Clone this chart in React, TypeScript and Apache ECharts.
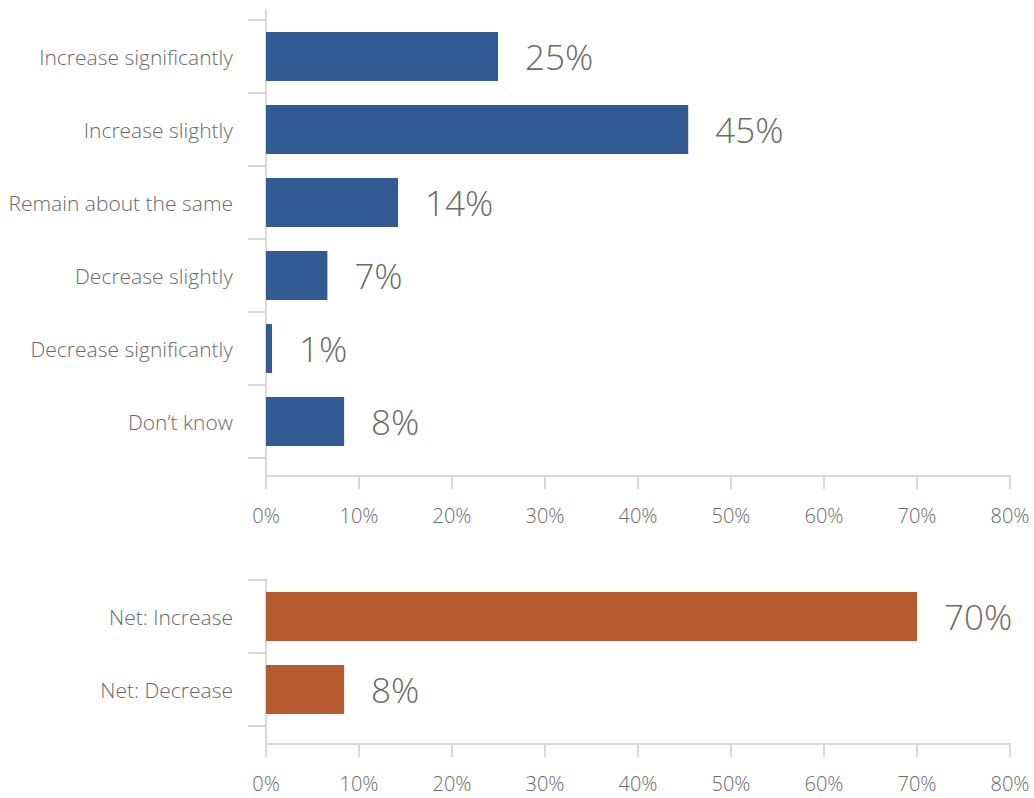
import React, { useEffect, useRef } from "react";
import * as echarts from "echarts";

const topCategories = [
  "Increase significantly",
  "Increase slightly",
  "Remain about the same",
  "Decrease slightly",
  "Decrease significantly",
  "Don’t know",
];
const topValues = [0.2495, 0.454, 0.142, 0.066, 0.0065, 0.084];

const netCategories = ["Net: Increase", "Net: Decrease"];
const netValues = [0.7, 0.084];

const axisMax = 0.8;
const axisInterval = 0.1;

const BLUE = "#335B93";
const ORANGE = "#B85A2F";
const AXIS = "#D9D9D9";
const TEXT = "#6A6A6A";
const FONT = "Open Sans";

export default function App() {
  const ref = useRef<HTMLDivElement>(null);

  useEffect(() => {
    document.body.style.margin = "0";
    const chart = echarts.init(ref.current!, null, { renderer: "svg" });
    const left = 266;
    const right = 24;
    const pct = (v: number) => Math.round(v * 100) + "%";

    const grids = [
      { left, right, top: 10, height: 466 },
      { left, right, top: 20, height: 438 },
      { left, right, top: 579, height: 165 },
      { left, right, top: 580, height: 146 },
    ];

    const frameX = (gi: number) => ({
      type: "value",
      gridIndex: gi,
      min: 0,
      max: axisMax,
      interval: axisInterval,
      axisLine: { show: true, lineStyle: { color: AXIS, width: 2 } },
      axisTick: { show: true, length: 13, lineStyle: { color: AXIS, width: 2 } },
      splitLine: { show: false },
      axisLabel: {
        formatter: (v: number) => pct(v),
        color: TEXT,
        fontFamily: FONT,
        fontWeight: 300,
        fontSize: 20,
        margin: 29,
      },
    });
    const hiddenX = (gi: number) => ({
      type: "value",
      gridIndex: gi,
      min: 0,
      max: axisMax,
      show: false,
    });
    const frameY = (gi: number) => ({
      type: "value",
      gridIndex: gi,
      axisLine: { show: true, lineStyle: { color: AXIS, width: 2 } },
      axisTick: { show: false },
      axisLabel: { show: false },
      splitLine: { show: false },
    });
    const catY = (gi: number, data: string[]) => ({
      type: "category",
      gridIndex: gi,
      data,
      inverse: true,
      axisLine: { show: false },
      axisTick: { show: true, length: 18, lineStyle: { color: AXIS, width: 2 } },
      axisLabel: {
        color: TEXT,
        fontFamily: FONT,
        fontWeight: 300,
        fontSize: 21,
        margin: 33,
      },
    });

    const barSeries = (xi: number, data: number[], color: string) => ({
      type: "bar",
      xAxisIndex: xi,
      yAxisIndex: xi,
      data,
      barCategoryGap: "33%",
      itemStyle: { color },
      label: {
        show: true,
        position: "right",
        distance: 27,
        formatter: (p: any) => pct(p.value),
        color: TEXT,
        fontFamily: FONT,
        fontWeight: 300,
        fontSize: 35,
      },
    });

    chart.setOption({
      animation: false,
      backgroundColor: "#ffffff",
      grid: grids,
      xAxis: [frameX(0), hiddenX(1), frameX(2), hiddenX(3)],
      yAxis: [
        frameY(0),
        catY(1, topCategories),
        frameY(2),
        catY(3, netCategories),
      ],
      series: [
        barSeries(1, topValues, BLUE),
        barSeries(3, netValues, ORANGE),
      ],
    });

    return () => chart.dispose();
  }, []);

  return <div ref={ref} style={{ width: 1034, height: 798 }} />;
}
